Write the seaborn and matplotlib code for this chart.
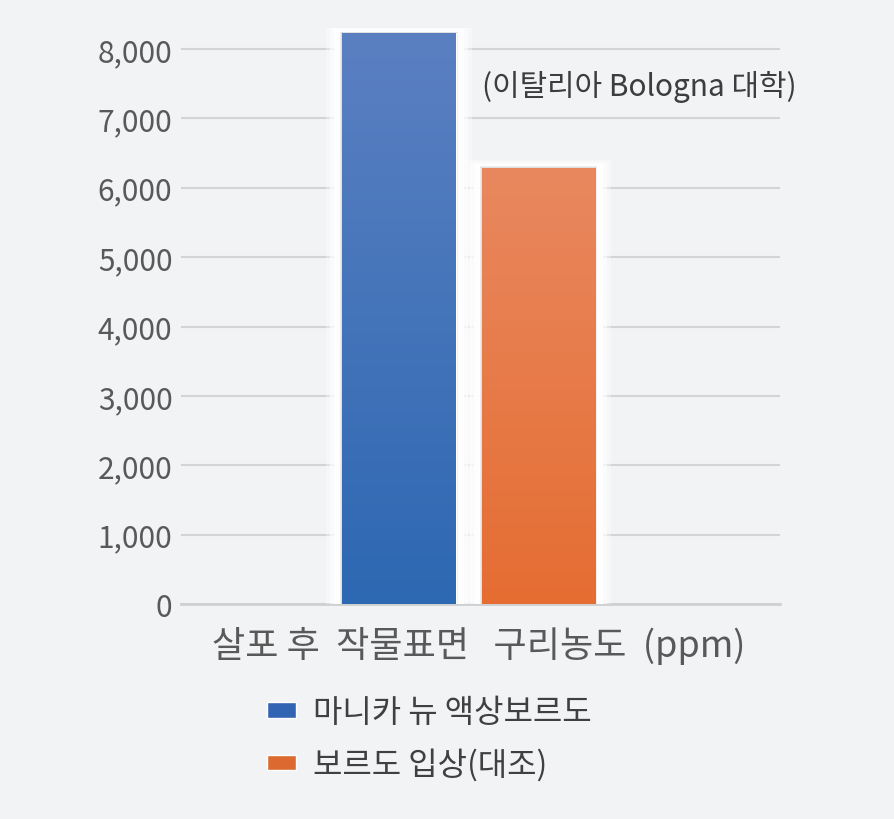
import numpy as np
import pandas as pd
import matplotlib
matplotlib.use('Agg')
import matplotlib.pyplot as plt
import matplotlib.transforms as mtransforms
import seaborn as sns
from matplotlib.patches import Rectangle
from matplotlib.colors import LinearSegmentedColormap

category = ['살포 후  작물표면   구리농도  (ppm)']
series = ['마니카 뉴 액상보르도', '보르도 입상(대조)']
values = [8230, 6290]
y_ticks = [0, 1000, 2000, 3000, 4000, 5000, 6000, 7000, 8000]
note = '(이탈리아 Bologna 대학)'

legend_colors = ['#3264b4', '#dc6a30']
grad_top = ['#5b80c2', '#e9885f']
grad_bottom = ['#2d68b2', '#e56d32']

bg = '#f2f3f5'
sns.set_theme(style='white')
plt.rcParams['font.family'] = ['Noto Sans CJK KR', 'DejaVu Sans']

df = pd.DataFrame({'cat': category * len(series), 'series': series, 'value': values})

fig = plt.figure(figsize=(8.95, 8.2), dpi=100, facecolor=bg)
ax = fig.add_axes([0.202, 0.262, 0.67, 0.7025], facecolor=bg)

sns.barplot(data=df, x='cat', y='value', hue='series', palette=legend_colors,
            saturation=1, width=0.465, gap=0.185, ax=ax, legend=True, zorder=3)

ax.set_xlim(-0.48, 0.52)
ax.set_ylim(0, 8300)
ax.set_yticks(y_ticks)
ax.set_yticklabels([f'{v:,}' for v in y_ticks])
ax.yaxis.grid(True, color='#d3d4d6', lw=1.5, zorder=0)
ax.set_axisbelow(True)
for s in ['top', 'right', 'left']:
    ax.spines[s].set_visible(False)
ax.spines['bottom'].set_color('#cfd0d2')
ax.spines['bottom'].set_linewidth(2)
ax.spines['bottom'].set_zorder(1)
ax.tick_params(axis='y', length=0, pad=6, labelsize=21.5, labelcolor='#595959')
ax.tick_params(axis='x', length=0, pad=16, labelsize=26, labelcolor='#595959')
ax.set_xlabel('')
ax.set_ylabel('')

# category label sits centred on the plot area, not on the bar group
shift = mtransforms.ScaledTranslation(10 / 100, 0, fig.dpi_scale_trans)
for lbl in ax.get_xticklabels():
    lbl.set_transform(lbl.get_transform() + shift)

# glow + gradient for each bar
px_x = 1.0 / (ax.get_position().width * fig.get_figwidth() * fig.dpi)
px_y = 8300 / (ax.get_position().height * fig.get_figheight() * fig.dpi)
dx = px_x * (ax.get_xlim()[1] - ax.get_xlim()[0])
bars = [p for p in ax.patches if p.get_height() > 0]
for i, p in enumerate(bars):
    x0, w, h = p.get_x(), p.get_width(), p.get_height()
    # white glow
    for k, a in zip([16, 12, 8], [0.35, 0.6, 0.9]):
        ax.add_patch(Rectangle((x0 - k * dx, 0), w + 2 * k * dx, h + k * 0.5 * px_y,
                               facecolor='white', edgecolor='none', alpha=a, zorder=1.5))
    # soft shadow
    for k, a in zip([4, 2], [0.12, 0.18]):
        ax.add_patch(Rectangle((x0 - k * dx * 0.5, 0), w + k * dx, h + k * 0.3 * px_y,
                               facecolor='#7a7a7a', edgecolor='none', alpha=a, zorder=2))
    cmap = LinearSegmentedColormap.from_list(f'g{i}', [grad_bottom[i], grad_top[i]])
    grad = np.linspace(0, 1, 256).reshape(-1, 1)
    im = ax.imshow(grad, cmap=cmap, aspect='auto', origin='lower',
                   extent=(x0, x0 + w, 0, h), zorder=3.5)
    im.set_clip_path(p)
ax.set_xlim(-0.48, 0.52)
ax.set_ylim(0, 8300)

ax.text(0.502, 0.899, note, transform=ax.transAxes, fontsize=21.5,
        color='#3d3d3d', ha='left', va='center')

handles, labels = ax.get_legend_handles_labels()
ax.get_legend().remove()
leg = fig.legend(handles, labels, loc='upper left', bbox_to_anchor=(0.284, 0.165),
                 frameon=False, fontsize=23, handlelength=0.9, handleheight=0.35,
                 handletextpad=0.55, labelspacing=0.62, borderaxespad=0)
for t in leg.get_texts():
    t.set_color('#404040')

fig.savefig('out.png', dpi=100, facecolor=bg)
